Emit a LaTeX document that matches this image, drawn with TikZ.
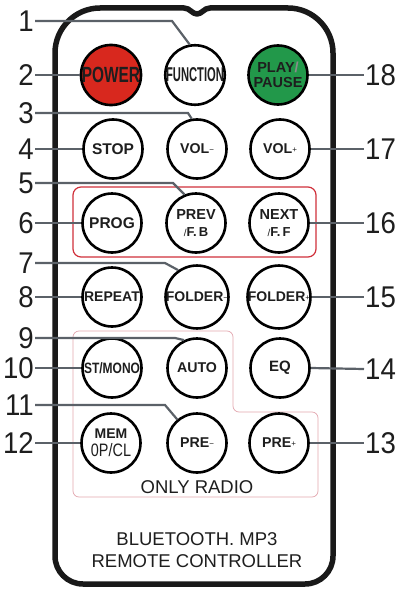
\documentclass[tikz,border=0pt]{standalone}
\usepackage{fontspec}
\setmainfont{Liberation Sans}
\newfontfamily\condA[FakeStretch=0.7]{Liberation Sans}
\newfontfamily\condB[FakeStretch=0.56]{Liberation Sans}
\newfontfamily\condC[FakeStretch=0.8]{Liberation Sans}
\newfontfamily\condD[FakeStretch=0.8]{Liberation Sans}
\newfontfamily\labfont[FakeStretch=0.92]{Liberation Sans}
\newcommand{\myfs}[2]{\fontsize{#1}{#2}\selectfont}
\newcommand{\btnminus}{{\mdseries\myfs{8}{8}\raisebox{1pt}{−}}}
\newcommand{\btnplus}{{\mdseries\myfs{8}{8}\raisebox{1pt}{+}}}
\definecolor{pwred}{HTML}{D8281E}
\definecolor{plgreen}{HTML}{22984A}
\definecolor{conncol}{HTML}{5B6168}
\definecolor{txtcol}{HTML}{1E1E1E}
\definecolor{boxred}{HTML}{D0303A}
\definecolor{radiopink}{HTML}{E2A6AE}
\tikzset{
  btn/.style={circle,draw=black,line width=2.6pt,minimum size=59pt,inner sep=0pt,
    fill=white,align=center,text=txtcol,font=\bfseries\myfs{14.2}{16}},
  lab/.style={inner sep=1pt,text=txtcol,font=\labfont\myfs{30}{30}},
  conn/.style={draw=conncol,line width=2.2pt},
  outline/.style={draw=black!90,line width=5.5pt,line join=round},
  bigtxt/.style={text=txtcol,font=\myfs{18.5}{22.5},align=center,inner sep=0pt}
}
\begin{document}
\begin{tikzpicture}[x=1pt,y=-1pt]
\useasboundingbox (0,0) rectangle (399,594);
% remote body
\draw[outline] (100,8) -- (184,8) .. controls (190,8) and (192,14) .. (197,14)
  .. controls (202,14) and (204,8) .. (210,8) -- (288,8)
  .. controls (312.8,8) and (333,28.2) .. (333,53) -- (333,556)
  .. controls (333,571.5) and (320.5,584) .. (305,584) -- (83,584)
  .. controls (67.5,584) and (55,571.5) .. (55,556) -- (55,53)
  .. controls (55,28.2) and (75.2,8) .. (100,8) -- cycle;
% group frames
\draw[boxred,line width=1.2pt,rounded corners=8pt] (73,187) rectangle (316,257);
\draw[radiopink,line width=0.7pt,rounded corners=6pt] (73,331) -- (233,331) -- (233,412)
  -- (318,412) -- (318,497) -- (73,497) -- cycle;
% buttons
\node[btn,fill=pwred,font=\condA\bfseries\myfs{22}{22}] (pw) at (111,75) {POWER};
\node[btn,font=\condB\bfseries\myfs{20}{20}] (fn) at (195,75) {FUNCTION};
\node[btn,fill=plgreen,font=\bfseries\myfs{14.5}{15.5}] (pp) at (278,75) {PLAY{\color{black!45}/}\\PAUSE};
\node[btn,font=\bfseries\myfs{15.5}{16}] (stop) at (113,149) {STOP};
\node[btn] (vm) at (197,149) {VOL\btnminus};
\node[btn] (vp) at (280,149) {VOL\btnplus};
\node[btn,font=\bfseries\myfs{15.5}{16}] (prog) at (112,223) {PROG};
\node[btn,font=\bfseries\myfs{14.5}{17}] (prev) at (196,223) {PREV\\{\mdseries\myfs{10}{17}/}{\myfs{13}{17}F.\,B}};
\node[btn,font=\bfseries\myfs{14.5}{17}] (next) at (279,223) {NEXT\\{\mdseries\myfs{10}{17}/}{\myfs{13}{17}F.\,F}};
\node[btn,font=\bfseries\myfs{14}{16}] (rep) at (112,297) {REPEAT};
\node[btn,font=\bfseries\myfs{14}{16}] (fm) at (197,297) {FOLDER\btnminus};
\node[btn,font=\bfseries\myfs{14}{16}] (fp) at (279,297) {FOLDER\btnplus};
\node[btn,font=\condC\bfseries\myfs{15}{16}] (st) at (112,368) {ST/MONO};
\node[btn] (auto) at (197,368) {AUTO};
\node[btn,font=\bfseries\myfs{15}{16}] (eq) at (280,368) {EQ};
\node[btn,font=\bfseries\myfs{14}{18}] (mem) at (111,443) {MEM\\{\condD\mdseries\myfs{18}{18}0P/CL}};
\node[btn] (pm) at (197,443) {PRE\btnminus};
\node[btn] (pl) at (279,443) {PRE\btnplus};
% texts
\node[bigtxt] (radio) at (197,487) {ONLY RADIO};
\node[bigtxt] (title) at (197,550) {BLUETOOTH. MP3\\REMOTE CONTROLLER};
% left labels
\node[lab,anchor=east] (l1) at (35,21) {1};
\node[lab,anchor=east] (l2) at (35,75) {2};
\node[lab,anchor=east] (l3) at (35,113) {3};
\node[lab,anchor=east] (l4) at (35,149) {4};
\node[lab,anchor=east] (l5) at (35,183) {5};
\node[lab,anchor=east] (l6) at (35,223) {6};
\node[lab,anchor=east] (l7) at (35,263) {7};
\node[lab,anchor=east] (l8) at (35,297) {8};
\node[lab,anchor=east] (l9) at (35,338) {9};
\node[lab,anchor=east] (l10) at (35,368) {10};
\node[lab,anchor=east] (l11) at (35,405) {11};
\node[lab,anchor=east] (l12) at (35,443) {12};
% right labels
\node[lab,anchor=west] (r18) at (364,75) {18};
\node[lab,anchor=west] (r17) at (364,149) {17};
\node[lab,anchor=west] (r16) at (364,223) {16};
\node[lab,anchor=west] (r15) at (364,297) {15};
\node[lab,anchor=west] (r14) at (364,369) {14};
\node[lab,anchor=west] (r13) at (364,443) {13};
% bend points
\coordinate (b1) at (172,21);
\coordinate (b3) at (188,113);
\coordinate (b5) at (173,183);
\coordinate (b7) at (165,263);
\coordinate (b9) at (175,338);
\coordinate (b11) at (165,405);
% connectors
\draw[conn] (l1.east) -- (b1) -- (fn.100);
\draw[conn] (l2.east) -- (pw.west);
\draw[conn] (l3.east) -- (b3) -- (vm.100);
\draw[conn] (l4.east) -- (stop.west);
\draw[conn] (l5.east) -- (b5) -- (prev.112);
\draw[conn] (l6.east) -- (prog.west);
\draw[conn] (l7.east) -- (b7) -- (fm.125);
\draw[conn] (l8.east) -- (rep.west);
\draw[conn] (l9.east) -- (b9) -- (auto.115);
\draw[conn] (l10.east) -- (st.west);
\draw[conn] (l11.east) -- (b11) -- (pm.130);
\draw[conn] (l12.east) -- (mem.west);
\draw[conn] (pp.east) -- (r18.west);
\draw[conn] (vp.east) -- (r17.west);
\draw[conn] (next.east) -- (r16.west);
\draw[conn] (fp.east) -- (r15.west);
\draw[conn] (eq.east) -- (r14.west);
\draw[conn] (pl.east) -- (r13.west);
\end{tikzpicture}
\end{document}
